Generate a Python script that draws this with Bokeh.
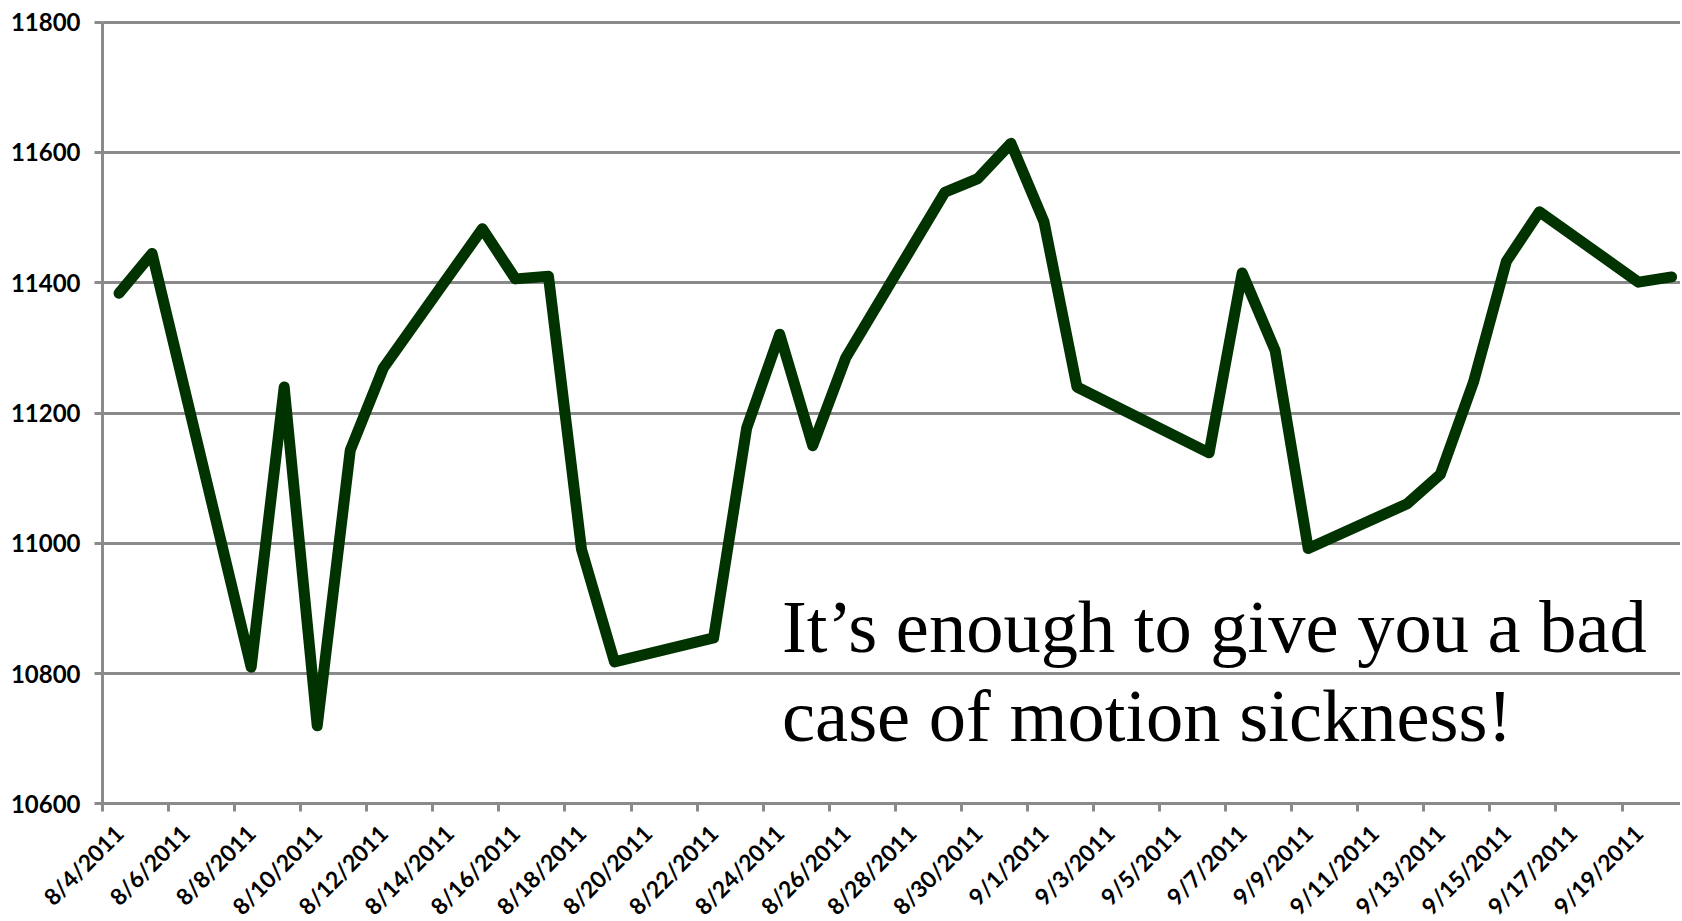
import math
import pandas as pd
from bokeh.plotting import figure
from bokeh.models import (Range1d, FixedTicker, ColumnDataSource, Label)
from bokeh.embed import file_html
from bokeh.resources import INLINE

# ---------------- data ----------------
dates = ["2011-08-04", "2011-08-05", "2011-08-08", "2011-08-09", "2011-08-10",
         "2011-08-11", "2011-08-12", "2011-08-15", "2011-08-16", "2011-08-17",
         "2011-08-18", "2011-08-19", "2011-08-22", "2011-08-23", "2011-08-24",
         "2011-08-25", "2011-08-26", "2011-08-29", "2011-08-30", "2011-08-31",
         "2011-09-01", "2011-09-02", "2011-09-06", "2011-09-07", "2011-09-08",
         "2011-09-09", "2011-09-12", "2011-09-13", "2011-09-14", "2011-09-15",
         "2011-09-16", "2011-09-19", "2011-09-20"]
values = [11384, 11445, 10810, 11240, 10720,
          11143, 11269, 11483, 11406, 11410,
          10991, 10818, 10855, 11177, 11321,
          11150, 11285, 11539, 11560, 11614,
          11494, 11240, 11139, 11415, 11296,
          10992, 11061, 11106, 11247, 11433,
          11509, 11401, 11409]
tick_labels = ["8/4/2011", "8/6/2011", "8/8/2011", "8/10/2011", "8/12/2011",
               "8/14/2011", "8/16/2011", "8/18/2011", "8/20/2011", "8/22/2011",
               "8/24/2011", "8/26/2011", "8/28/2011", "8/30/2011", "9/1/2011",
               "9/3/2011", "9/5/2011", "9/7/2011", "9/9/2011", "9/11/2011",
               "9/13/2011", "9/15/2011", "9/17/2011", "9/19/2011"]
y_ticks = [10600, 10800, 11000, 11200, 11400, 11600, 11800]
note_lines = ["It\u2019s enough to give you a bad", "case of motion sickness!"]

# ---------------- derived positions (days since first date) ----------------
origin = pd.Timestamp(dates[0])
x_days = [(pd.Timestamp(d) - origin).days + 0.5 for d in dates]   # slot centres
tick_days = [float((pd.to_datetime(t, format="%m/%d/%Y") - origin).days) for t in tick_labels]
label_days = [t + 0.5 for t in tick_days]
y_min, y_max = y_ticks[0], y_ticks[-1]
x_end = 47.77

GRID = "#8a8a8a"
LINE = "#003300"
TICK_FONT = "Lato"

# The frame covers the whole canvas; both axes are pinned inside it so that the
# rotated date labels get the room they need without shrinking the plot.
p = figure(width=1680, height=919, output_backend="svg", toolbar_location=None,
           x_range=Range1d(-3.088, x_end), y_range=Range1d(10422.7, 11833.3),
           min_border_left=0, min_border_right=0, min_border_top=0, min_border_bottom=0)
p.outline_line_color = None
p.background_fill_color = "white"
p.border_fill_color = "white"
p.xgrid.grid_line_color = None

# y axis
ya = p.yaxis[0]
ya.fixed_location = 0
ya.ticker = FixedTicker(ticks=y_ticks)
ya.bounds = (y_min, y_max)
ya.axis_line_color = GRID
ya.axis_line_width = 3
ya.major_tick_line_color = GRID
ya.major_tick_line_width = 3
ya.major_tick_out = 8
ya.major_tick_in = 0
ya.minor_tick_line_color = None
ya.major_label_standoff = 14
ya.major_label_text_font = TICK_FONT
ya.major_label_text_font_style = "bold"
ya.major_label_text_font_size = "24px"
ya.major_label_text_color = "black"

p.ygrid.ticker = FixedTicker(ticks=y_ticks)
p.ygrid.grid_line_color = GRID
p.ygrid.grid_line_width = 3
p.ygrid.cross_bounds = (0, x_end)

# x axis: labels at slot centres (major), tick marks at slot boundaries (minor)
xa = p.xaxis[0]
xa.fixed_location = y_min
xa.bounds = (0, x_end)
xa.ticker = FixedTicker(ticks=label_days, minor_ticks=tick_days)
xa.axis_line_color = GRID
xa.axis_line_width = 3
xa.major_tick_line_color = None
xa.major_tick_out = 0
xa.major_tick_in = 0
xa.minor_tick_line_color = GRID
xa.minor_tick_line_width = 3
xa.minor_tick_out = 8
xa.minor_tick_in = 0
xa.major_label_overrides = {d: t for d, t in zip(label_days, tick_labels)}
xa.major_label_orientation = math.pi / 4
xa.major_label_standoff = 17
xa.major_label_text_font = TICK_FONT
xa.major_label_text_font_style = "bold"
xa.major_label_text_font_size = "23px"
xa.major_label_text_color = "black"

src = ColumnDataSource(data=dict(x=x_days, y=values))
p.line("x", "y", source=src, line_color=LINE, line_width=11, line_join="round", line_cap="round")

# annotation text
note_x = 20.57
note_y = [10871.5, 10734.5]
for txt, yy in zip(note_lines, note_y):
    p.add_layout(Label(x=note_x, y=yy, text=txt, text_font="Liberation Serif",
                       text_font_size="74.5px", text_color="black",
                       text_baseline="alphabetic", text_align="left"))

open("out.html", "w").write(file_html(p, INLINE))
